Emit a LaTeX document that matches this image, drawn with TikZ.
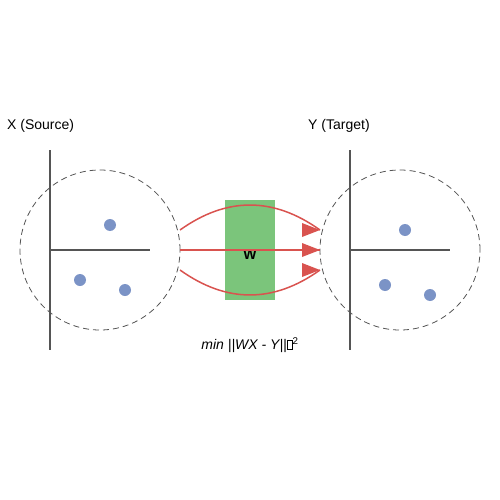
\documentclass[tikz,border=0pt]{standalone}
\usepackage{fontspec}
\setmainfont{Liberation Sans}
\usepackage{tikz}
\usetikzlibrary{positioning, arrows.meta}

\definecolor{axisgray}{HTML}{555555}
\definecolor{dotblue}{HTML}{7B93C6}
\definecolor{mapgreen}{HTML}{7BC57B}
\definecolor{arrowred}{HTML}{D9534F}

\newcommand{\tofu}{{\setlength{\fboxsep}{0pt}\setlength{\fboxrule}{0.4pt}\fbox{\rule{0pt}{9pt}\hspace{5pt}}}}

\begin{document}
\begin{tikzpicture}
    [
        x=1pt, y=-1pt,
        space_circle/.style={circle, draw=axisgray, dash pattern=on 6pt off 4pt, line width=0.8pt, minimum size=160pt, inner sep=0pt},
        axis_line/.style={draw=axisgray, line width=1.5pt},
        data_dot/.style={circle, fill=dotblue, minimum size=12pt, inner sep=0pt},
        map_line/.style={draw=arrowred, line width=1.5pt},
        map_head/.style={fill=arrowred, draw=none},
        title_text/.style={font=\fontsize{14}{17}\selectfont, inner sep=0pt, anchor=west},
    ]
        \useasboundingbox (0,0) rectangle (500,500);
        % source space
        \node[space_circle] (src) at (100,250) {};
        \draw[axis_line] (50,150) -- (50,350);
        \draw[axis_line] (50,250) -- (150,250);
        \node[data_dot] (x1) at (110,225) {};
        \node[data_dot] (x2) at (80,280) {};
        \node[data_dot] (x3) at (125,290) {};
        \node[title_text] (srclabel) at (7,126) {X (Source)};
        % target space
        \node[space_circle] (tgt) at (400,250) {};
        \draw[axis_line] (350,150) -- (350,350);
        \draw[axis_line] (350,250) -- (450,250);
        \node[data_dot] (y1) at (405,230) {};
        \node[data_dot] (y2) at (385,285) {};
        \node[data_dot] (y3) at (430,295) {};
        \node[title_text] (tgtlabel) at (308,126) {Y (Target)};
        % mapping W
        \node[fill=mapgreen, minimum width=50pt, minimum height=100pt, inner sep=0pt] (wbox) at (250,250) {};
        \node[font=\fontsize{14}{17}\selectfont\bfseries] (wlabel) at (250,255) {W};
        \coordinate (s_top) at (180,230);
        \coordinate (s_bot) at (180,270);
        \coordinate (t_top) at (320,230);
        \coordinate (t_mid) at (320,250);
        \coordinate (t_bot) at (320,270);
        \draw[map_line] (src.east) -- (t_mid);
        \draw[map_line] (s_top) .. controls (226.7,196.7) and (273.3,196.7) .. (t_top);
        \draw[map_line] (s_bot) .. controls (226.7,303.3) and (273.3,303.3) .. (t_bot);
        \foreach \t in {t_top, t_mid, t_bot}
            \fill[map_head] (\t) -- ++(-18,-7) -- ++(0,14) -- cycle;
        \node[font=\fontsize{14}{17}\selectfont\itshape] (objective) at (250,345) {min ||WX - Y||\tofu\textsuperscript{\upshape 2}};
    \end{tikzpicture}
\end{document}
